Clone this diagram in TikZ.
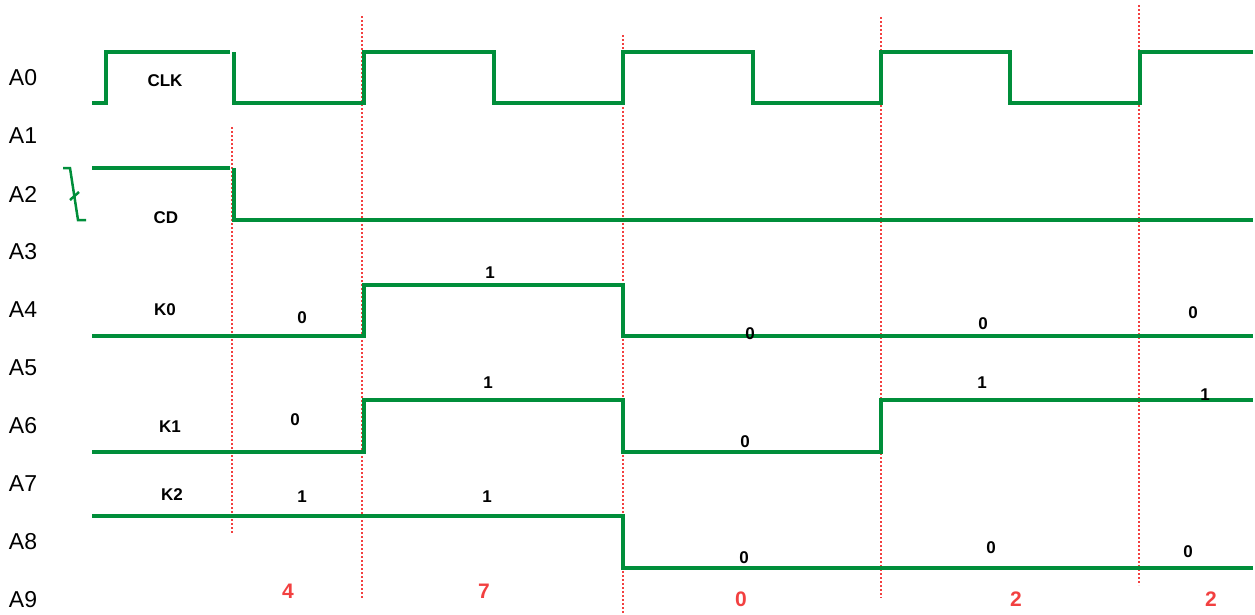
\documentclass[tikz,border=0pt]{standalone}
\usepackage{fontspec}
\setmainfont{Liberation Sans}
\definecolor{wavegreen}{RGB}{0,142,58}
\definecolor{cutred}{RGB}{242,64,64}

\begin{document}
\begin{tikzpicture}[x=1pt,y=-1pt,
  wave/.style={wavegreen,line width=3.5pt,line join=miter},
  cut/.style={cutred,dash pattern=on 2pt off 2pt,line width=2pt},
  row/.style={inner sep=0pt,font=\fontsize{23}{26}\selectfont},
  bit/.style={inner sep=0pt,font=\fontsize{17}{20}\selectfont\bfseries},
  count/.style={inner sep=0pt,text=cutred,font=\fontsize{21}{24}\selectfont\bfseries}]
\useasboundingbox (0,0) rectangle (1255,614);

% row labels
\node[row] (A0) at (23,78) {A0};
\node[row] (A1) at (23,136) {A1};
\node[row] (A2) at (23,194) {A2};
\node[row] (A3) at (23,252) {A3};
\node[row] (A4) at (23,310) {A4};
\node[row] (A5) at (23,368) {A5};
\node[row] (A6) at (23,426) {A6};
\node[row] (A7) at (23,484) {A7};
\node[row] (A8) at (23,542) {A8};
\node[row] (A9) at (23,600) {A9};

% red cuts
\draw[cut] (232,127) -- (232,533);
\draw[cut] (362,16) -- (362,598);
\draw[cut] (623,35) -- (623,614);
\draw[cut] (881,17) -- (881,598);
\draw[cut] (1139,5) -- (1139,585);

% CLK
\draw[wave]
(92,103) --
(106,103) --
(106,52) --
(230,52);
\draw[wave]
(234,52) --
(234,103) --
(364,103) --
(364,52) --
(494,52) --
(494,103) --
(623,103) --
(623,52) --
(753,52) --
(753,103) --
(881,103) --
(881,52) --
(1010,52) --
(1010,103) --
(1140,103) --
(1140,52) --
(1253,52);

% CD
\draw[wave]
(92,168) --
(230,168);
\draw[wave]
(234,168) --
(234,220) --
(1253,220);
\draw[wavegreen,line width=2.5pt]
(63,168) --
(70,168) --
(78,220) --
(86,220);
\draw[wavegreen,line width=2.5pt] (70,200) -- (79,192);

% K0
\draw[wave]
(92,336) --
(364,336) --
(364,285) --
(623,285) --
(623,336) --
(1253,336);

% K1
\draw[wave]
(92,452) --
(364,452) --
(364,400) --
(623,400) --
(623,452) --
(881,452) --
(881,400) --
(1253,400);

% K2
\draw[wave]
(92,516) --
(623,516) --
(623,568) --
(1253,568);

\node[bit] (clk) at (165,81) {CLK};
\node[bit] (cd) at (166,218) {CD};
\node[bit] (k0) at (165,310) {K0};
\node[bit] (k1) at (170,427) {K1};
\node[bit] (k2) at (172,495) {K2};

\node[bit] (k0a) at (302,318) {0};
\node[bit] (k0b) at (490,273) {1};
\node[bit] (k0c) at (750,334) {0};
\node[bit] (k0d) at (983,324) {0};
\node[bit] (k0e) at (1193,313) {0};

\node[bit] (k1a) at (295,420) {0};
\node[bit] (k1b) at (488,383) {1};
\node[bit] (k1c) at (745,442) {0};
\node[bit] (k1d) at (982,383) {1};
\node[bit] (k1e) at (1205,395) {1};

\node[bit] (k2a) at (302,497) {1};
\node[bit] (k2b) at (487,497) {1};
\node[bit] (k2c) at (744,558) {0};
\node[bit] (k2d) at (991,548) {0};
\node[bit] (k2e) at (1188,552) {0};

\node[count] (n1) at (288,591) {4};
\node[count] (n2) at (484,591) {7};
\node[count] (n3) at (741,599) {0};
\node[count] (n4) at (1016,599) {2};
\node[count] (n5) at (1211,599) {2};

\end{tikzpicture}
\end{document}
